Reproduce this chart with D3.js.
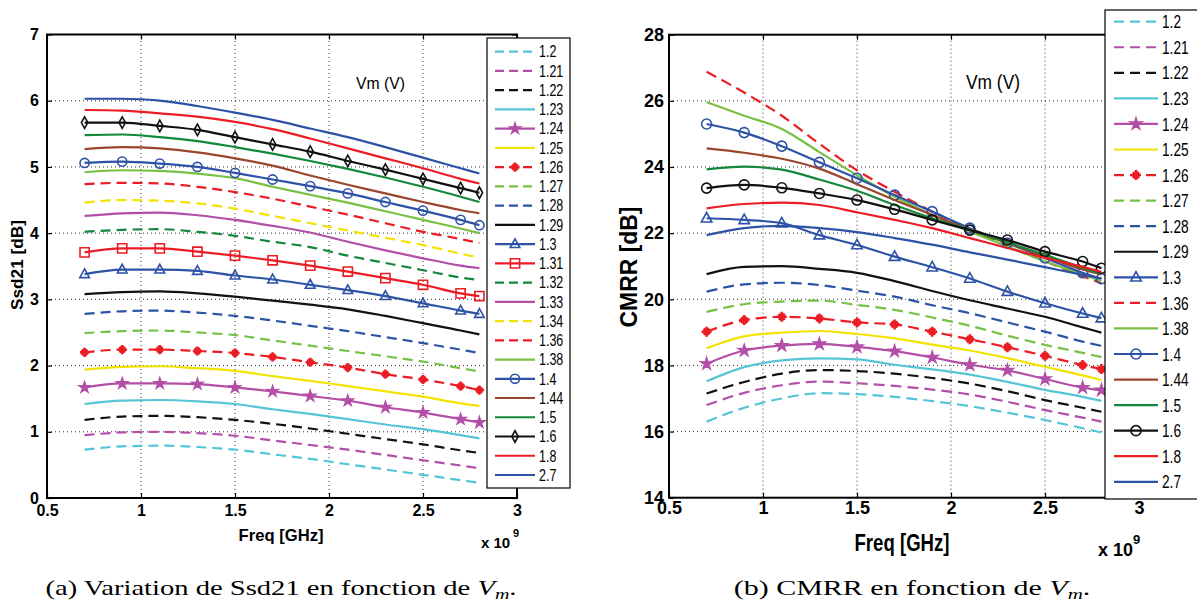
<!DOCTYPE html>
<html><head><meta charset="utf-8">
<script src="https://cdn.jsdelivr.net/npm/d3@7"></script>
<style>body{margin:0;background:#fff}svg{display:block}</style>
</head><body>
<svg id="c" width="1197" height="607"></svg>
<script>
// ---------------- DATA ----------------
const freq = [0.7,0.9,1.1,1.3,1.5,1.7,1.9,2.1,2.3,2.5,2.7,2.8]; // GHz (axis shown as x 10^9)
const xTicks = [0.5,1,1.5,2,2.5,3];
const yTicksSsd = [0,1,2,3,4,5,6,7];
const yTicksCmrr = [14,16,18,20,22,24,26,28];

// Ssd21 [dB] (panel a), one array per Vm
const s120 = [0.73,0.78,0.79,0.77,0.73,0.66,0.59,0.51,0.43,0.35,0.27,0.23];
const s121 = [0.95,0.99,1.00,0.98,0.94,0.87,0.80,0.73,0.65,0.57,0.49,0.45];
const s122 = [1.18,1.23,1.24,1.22,1.18,1.12,1.05,0.97,0.89,0.81,0.72,0.68];
const s123 = [1.42,1.47,1.48,1.46,1.42,1.34,1.27,1.19,1.11,1.04,0.95,0.90];
const s124 = [1.67,1.73,1.73,1.72,1.67,1.61,1.54,1.47,1.37,1.29,1.19,1.14];
const s125 = [1.94,1.98,1.99,1.96,1.92,1.84,1.77,1.69,1.61,1.53,1.43,1.39];
const s126 = [2.20,2.24,2.24,2.22,2.19,2.13,2.05,1.97,1.87,1.79,1.69,1.63];
const s127 = [2.49,2.52,2.53,2.50,2.46,2.38,2.30,2.22,2.14,2.06,1.96,1.91];
const s128 = [2.78,2.82,2.83,2.80,2.75,2.68,2.60,2.52,2.43,2.34,2.24,2.19];
const s129 = [3.08,3.11,3.12,3.09,3.04,2.98,2.92,2.85,2.75,2.64,2.53,2.47];
const s130 = [3.38,3.45,3.45,3.43,3.36,3.30,3.22,3.14,3.05,2.94,2.83,2.78];
const s131 = [3.71,3.77,3.77,3.72,3.66,3.59,3.51,3.42,3.32,3.22,3.09,3.05];
const s132 = [4.02,4.05,4.06,4.02,3.96,3.87,3.79,3.66,3.55,3.44,3.33,3.29];
const s133 = [4.26,4.30,4.31,4.27,4.20,4.11,4.01,3.87,3.74,3.62,3.51,3.47];
const s134 = [4.46,4.50,4.49,4.45,4.37,4.26,4.15,4.04,3.93,3.82,3.69,3.63];
const s136 = [4.74,4.76,4.75,4.70,4.62,4.52,4.40,4.28,4.15,4.02,3.91,3.85];
const s138 = [4.92,4.95,4.94,4.90,4.83,4.70,4.58,4.46,4.33,4.20,4.07,4.00];
const s140 = [5.06,5.08,5.05,5.00,4.91,4.81,4.71,4.60,4.47,4.34,4.20,4.12];
const s144 = [5.27,5.30,5.28,5.22,5.13,5.02,4.87,4.73,4.60,4.47,4.35,4.30];
const s150 = [5.48,5.49,5.45,5.39,5.30,5.20,5.09,4.97,4.84,4.70,4.55,4.47];
const s160 = [5.67,5.67,5.62,5.56,5.45,5.34,5.23,5.09,4.96,4.82,4.68,4.61];
const s180 = [5.86,5.85,5.81,5.76,5.68,5.57,5.43,5.28,5.13,4.98,4.82,4.75];
const s270 = [6.03,6.03,6.00,5.92,5.82,5.71,5.58,5.45,5.30,5.14,4.98,4.90];

// CMRR [dB] (panel b)
const c120 = [16.30,16.72,17.00,17.16,17.13,17.05,16.92,16.77,16.57,16.35,16.10,15.97];
const c121 = [16.80,17.17,17.40,17.51,17.46,17.38,17.27,17.12,16.90,16.65,16.42,16.30];
const c122 = [17.15,17.50,17.75,17.86,17.83,17.75,17.62,17.45,17.22,16.95,16.72,16.60];
const c123 = [17.52,17.95,18.15,18.21,18.18,18.02,17.88,17.72,17.50,17.26,17.05,16.93];
const c124 = [18.05,18.45,18.60,18.65,18.56,18.43,18.24,18.02,17.85,17.59,17.33,17.25];
const c125 = [18.52,18.88,18.99,19.04,18.95,18.82,18.63,18.45,18.22,17.96,17.70,17.56];
const c126 = [19.02,19.37,19.47,19.42,19.30,19.24,19.02,18.79,18.55,18.29,18.01,17.89];
const c127 = [19.62,19.85,19.93,19.96,19.83,19.68,19.45,19.20,18.90,18.62,18.38,18.25];
const c128 = [20.23,20.45,20.50,20.43,20.26,20.08,19.82,19.58,19.30,19.02,18.72,18.59];
const c129 = [20.76,20.98,21.00,20.92,20.80,20.55,20.25,19.97,19.72,19.47,19.15,18.99];
const c130 = [22.45,22.40,22.30,21.94,21.64,21.29,20.97,20.63,20.23,19.88,19.57,19.43];
const c136 = [26.88,26.25,25.55,24.70,23.90,23.25,22.65,22.10,21.60,21.15,20.70,20.48];
const c138 = [25.96,25.55,25.15,24.45,23.75,23.10,22.55,22.05,21.60,21.15,20.75,20.55];
const c140 = [25.30,25.04,24.63,24.14,23.66,23.15,22.65,22.15,21.70,21.25,20.80,20.62];
const c144 = [24.56,24.43,24.25,23.95,23.48,23.00,22.55,22.10,21.70,21.30,20.90,20.75];
const c150 = [23.93,24.01,23.92,23.62,23.28,22.85,22.45,22.10,21.72,21.35,20.95,20.78];
const c160 = [23.36,23.46,23.37,23.20,23.00,22.72,22.40,22.09,21.79,21.44,21.14,20.94];
const c180 = [22.75,22.88,22.92,22.85,22.63,22.40,22.15,21.85,21.55,21.25,20.98,20.83];
const c270 = [21.94,22.15,22.22,22.15,22.03,21.85,21.65,21.42,21.20,20.97,20.74,20.63];

// ---------------- STYLES ----------------
const COL = {cyan:"#55c5d6", purple:"#b34fa6", black:"#111111", yellow:"#f2e300", red:"#ec1c24",
             lgreen:"#78c043", blue:"#2d52a6", dgreen:"#13883b", brown:"#9a452c"};

const seriesA = [
  ["1.2", s120, "cyan", true, null], ["1.21", s121, "purple", true, null], ["1.22", s122, "black", true, null],
  ["1.23", s123, "cyan", false, null], ["1.24", s124, "purple", false, "star"], ["1.25", s125, "yellow", false, null],
  ["1.26", s126, "red", true, "asterisk"], ["1.27", s127, "lgreen", true, null], ["1.28", s128, "blue", true, null],
  ["1.29", s129, "black", false, null], ["1.3", s130, "blue", false, "triangle"], ["1.31", s131, "red", false, "square"],
  ["1.32", s132, "dgreen", true, null], ["1.33", s133, "purple", false, null], ["1.34", s134, "yellow", true, null],
  ["1.36", s136, "red", true, null], ["1.38", s138, "lgreen", false, null], ["1.4", s140, "blue", false, "circle"],
  ["1.44", s144, "brown", false, null], ["1.5", s150, "dgreen", false, null], ["1.6", s160, "black", false, "diamond"],
  ["1.8", s180, "red", false, null], ["2.7", s270, "blue", false, null]
];
const seriesB = [
  ["1.2", c120, "cyan", true, null], ["1.21", c121, "purple", true, null], ["1.22", c122, "black", true, null],
  ["1.23", c123, "cyan", false, null], ["1.24", c124, "purple", false, "star"], ["1.25", c125, "yellow", false, null],
  ["1.26", c126, "red", true, "asterisk"], ["1.27", c127, "lgreen", true, null], ["1.28", c128, "blue", true, null],
  ["1.29", c129, "black", false, null], ["1.3", c130, "blue", false, "triangle"], ["1.36", c136, "red", true, null],
  ["1.38", c138, "lgreen", false, null], ["1.4", c140, "blue", false, "circle"], ["1.44", c144, "brown", false, null],
  ["1.5", c150, "dgreen", false, null], ["1.6", c160, "black", false, "circle"], ["1.8", c180, "red", false, null],
  ["2.7", c270, "blue", false, null]
];

function markerPath(type, s) {
  switch (type) {
    case "circle": return d3.symbol(d3.symbolCircle, Math.PI * s * s)();
    case "square": return `M${-s},${-s}H${s}V${s}H${-s}Z`;
    case "triangle": return `M0,${-s * 1.15}L${s * 1.05},${s * 0.75}L${-s * 1.05},${s * 0.75}Z`;
    case "diamond": return `M0,${-s * 1.25}L${s * 0.7},0L0,${s * 1.25}L${-s * 0.7},0Z`;
    case "star": {
      let p = "";
      for (let i = 0; i < 10; i++) {
        const r = i % 2 ? s * 0.45 : s * 1.2, a = -Math.PI / 2 + i * Math.PI / 5;
        p += (i ? "L" : "M") + (r * Math.cos(a)).toFixed(2) + "," + (r * Math.sin(a)).toFixed(2);
      }
      return p + "Z";
    }
    case "asterisk": return `M${-s},0H${s}M0,${-s}V${s}M${-s * .6},${-s * .6}L${s * .6},${s * .6}M${-s * .6},${s * .6}L${s * .6},${-s * .6}`;
  }
}

const svg = d3.select("#c");
svg.append("rect").attr("width", 1197).attr("height", 607).attr("fill", "#fff");

function panel(cfg) {
  const g = svg.append("g");
  const x = d3.scaleLinear([0.5, 3], cfg.xr);
  const y = d3.scaleLinear(cfg.yd, cfg.yr);
  const [x0, x1] = cfg.xr, [y0, y1] = cfg.yr; // y0 bottom, y1 top

  // grid
  const grid = g.append("g").attr("stroke", "#333").attr("stroke-width", 1).attr("stroke-dasharray", "1,3");
  xTicks.slice(1, -1).forEach(t => grid.append("line").attr("x1", x(t)).attr("x2", x(t)).attr("y1", y0).attr("y2", y1));
  cfg.yt.slice(1, -1).forEach(t => grid.append("line").attr("x1", x0).attr("x2", x1).attr("y1", y(t)).attr("y2", y(t)));

  // curves
  const line = d3.line().x((d, i) => x(freq[i])).y(d => y(d)).curve(d3.curveMonotoneX);
  cfg.series.forEach(([lab, vals, col, dash, mk]) => {
    g.append("path").attr("d", line(vals)).attr("fill", "none").attr("stroke", COL[col])
      .attr("stroke-width", 2.2).attr("stroke-dasharray", dash ? cfg.dash : null);
    if (mk) {
      vals.forEach((v, i) => {
        g.append("path").attr("d", markerPath(mk, cfg.ms)).attr("transform", `translate(${x(freq[i])},${y(v)})`)
          .attr("fill", mk === "star" ? COL[col] : "none").attr("stroke", COL[col])
          .attr("stroke-width", mk === "asterisk" ? 2.6 : 1.6);
      });
    }
  });

  // axes
  const fs = cfg.tickFs;
  const ax = g.append("g").attr("transform", `translate(0,${y0})`)
    .call(d3.axisBottom(x).tickValues(xTicks).tickFormat(d3.format("~g")).tickSizeInner(-5).tickSizeOuter(0).tickPadding(cfg.xPad));
  const ay = g.append("g").attr("transform", `translate(${x0},0)`)
    .call(d3.axisLeft(y).tickValues(cfg.yt).tickFormat(d3.format("~g")).tickSizeInner(-5).tickSizeOuter(0).tickPadding(cfg.yPad));
  const at = g.append("g").attr("transform", `translate(0,${y1})`)
    .call(d3.axisTop(x).tickValues(xTicks).tickFormat("").tickSizeInner(-5).tickSizeOuter(0));
  const ar = g.append("g").attr("transform", `translate(${x1},0)`)
    .call(d3.axisRight(y).tickValues(cfg.yt).tickFormat("").tickSizeInner(-5).tickSizeOuter(0));
  [ax, ay, at, ar].forEach(a => {
    a.select(".domain").remove();
    a.selectAll("line").attr("stroke", "#000").attr("stroke-width", 1.2);
    a.selectAll("text").attr("font-family", "Liberation Sans, Arial, sans-serif").attr("font-size", fs)
      .attr("font-weight", "bold").attr("fill", "#000");
  });
  g.append("rect").attr("x", x0).attr("y", y1).attr("width", x1 - x0).attr("height", y0 - y1)
    .attr("fill", "none").attr("stroke", "#000").attr("stroke-width", 2);

  // labels
  const T = (tx, ty, s, size, opts = {}) => {
    const t = g.append("text").attr("x", tx).attr("y", ty).text(s)
      .attr("font-family", "Liberation Sans, Arial, sans-serif").attr("font-size", size)
      .attr("font-weight", opts.w || "bold").attr("text-anchor", opts.a || "middle").attr("fill", "#000");
    if (opts.len) t.attr("textLength", opts.len).attr("lengthAdjust", "spacingAndGlyphs");
    if (opts.rot) t.attr("transform", `rotate(-90,${tx},${ty})`);
    return t;
  };
  T(cfg.xl[0], cfg.xl[1], "Freq [GHz]", cfg.labFs, {len: cfg.xl[2]});
  T(cfg.yl[0], cfg.yl[1], cfg.ylab, cfg.labFs2, {len: cfg.yl[2], rot: true});
  T(cfg.vm[0], cfg.vm[1], "Vm (V)", cfg.vm[2], {w: "normal", a: "start", len: cfg.vm[3]});
  T(cfg.ex[0], cfg.ex[1], "x 10", cfg.ex[2], {a: "start"});
  T(cfg.ex[3], cfg.ex[4], "9", cfg.ex[5], {a: "start"});

  // legend
  const L = cfg.leg;
  g.append("rect").attr("x", L.x).attr("y", L.y).attr("width", L.w).attr("height", L.h)
    .attr("fill", "#fff").attr("stroke", "#000").attr("stroke-width", 1.2);
  cfg.series.forEach(([lab, vals, col, dash, mk], i) => {
    const ly = L.y0 + i * L.dy;
    g.append("line").attr("x1", L.l0).attr("x2", L.l1).attr("y1", ly).attr("y2", ly)
      .attr("stroke", COL[col]).attr("stroke-width", 2.2).attr("stroke-dasharray", dash ? cfg.legDash : null);
    if (mk) g.append("path").attr("d", markerPath(mk, cfg.ms)).attr("transform", `translate(${(L.l0 + L.l1) / 2},${ly})`)
      .attr("fill", mk === "star" ? COL[col] : "none").attr("stroke", COL[col]).attr("stroke-width", mk === "asterisk" ? 2.6 : 1.6);
    g.append("text").attr("transform", `translate(${L.tx},${ly}) scale(${L.sx},1)`).attr("dy", "0.36em")
      .attr("font-family", "Liberation Sans, Arial, sans-serif").attr("font-size", L.fs).attr("fill", "#000").text(lab);
  });
}

panel({
  xr: [47, 517], yd: [0, 7], yr: [498, 34.5], yt: yTicksSsd, series: seriesA, dash: "10,6", legDash: "9,5",
  ms: 4.6, tickFs: 16, xPad: 7, yPad: 8, labFs: 17, labFs2: 17,
  xl: [281, 541, 85], yl: [23, 265, 90], ylab: "Ssd21 [dB]", vm: [356, 89, 17, 49],
  ex: [481, 548, 15, 513, 537, 11],
  leg: {x: 487, y: 38, w: 83, h: 450, y0: 51.7, dy: 19.24, l0: 495, l1: 535, tx: 539, fs: 16, sx: 0.78}
});
panel({
  xr: [669, 1139], yd: [14, 28], yr: [497.7, 34.7], yt: yTicksCmrr, series: seriesB, dash: "11,6", legDash: "10,6",
  ms: 5, tickFs: 18, xPad: 4, yPad: 5, labFs: 23, labFs2: 23,
  xl: [902, 551, 95], yl: [637, 267, 121], ylab: "CMRR [dB]", vm: [966, 89, 20, 54],
  ex: [1098, 556, 18, 1133, 544, 13],
  leg: {x: 1105, y: 10, w: 100, h: 489, y0: 21.7, dy: 25.56, l0: 1114, l1: 1158, tx: 1162, fs: 18.5, sx: 0.74}
});

// captions (serif, LaTeX-like, horizontally stretched as in the source figure)
function caption(cx, cy, sx, pre) {
  const t = svg.append("text").attr("transform", `translate(${cx},${cy}) scale(${sx},1)`).attr("text-anchor", "middle")
    .attr("font-family", "Liberation Serif, 'DejaVu Serif', serif").attr("font-size", 20).attr("fill", "#000");
  t.append("tspan").text(pre);
  t.append("tspan").attr("font-style", "italic").text("V");
  t.append("tspan").attr("font-style", "italic").attr("font-size", 14).attr("dy", 4).text("m");
  t.append("tspan").attr("dy", -4).text(".");
}
caption(281, 595, 1.43, "(a)  Variation de Ssd21 en fonction de ");
caption(912, 595, 1.5, "(b)  CMRR en fonction de ");
</script>
</body></html>
